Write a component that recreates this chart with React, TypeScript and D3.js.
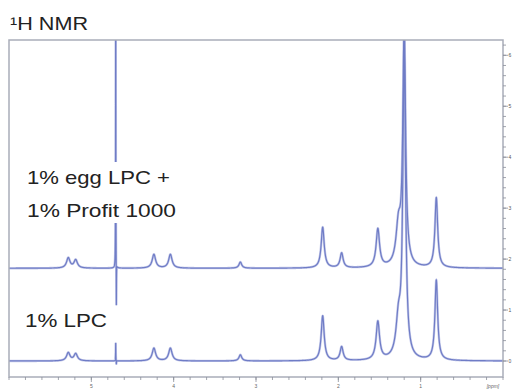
import React from "react";
import * as d3 from "d3";

// ---- data ----
const peakPpm = [5.28, 5.19, 4.704, 4.696, 4.24, 4.04, 3.19, 2.19, 1.96, 1.52, 1.27, 1.2, 0.81];
const peakWidth = [0.025, 0.025, 0.0015, 0.0015, 0.025, 0.025, 0.02, 0.022, 0.022, 0.025, 0.035, 0.02, 0.02];
const upperHeights = [0.2, 0.16, 6.5, -0.95, 0.27, 0.27, 0.12, 0.8, 0.29, 0.75, 0.75, 4.7, 1.37];
const lowerHeights = [0.16, 0.14, 0.36, -0.08, 0.25, 0.25, 0.12, 0.88, 0.27, 0.75, 0.7, 5.94, 1.57];
const upperBaseline = 1.82;
const lowerBaseline = 0.0;
const xMajorTicks = [5, 4, 3, 2, 1];
const yMajorTicks = [0, 1, 2, 3, 4, 5, 6];
const labelUpper1 = "1% egg LPC +";
const labelUpper2 = "1% Profit 1000";
const labelLower = "1% LPC";
const title = "\u00B9H NMR";

const W = 515;
const H = 390;
const L = 9, T = 40, R = 503, B = 377;

const x = d3.scaleLinear().domain([6, 0]).range([L, R]);
const y = d3.scaleLinear().domain([0, 6.3]).range([361, T]);

function spectrum(heights: number[], base: number): [number, number][] {
  const pts: [number, number][] = [];
  const grid = d3.range(6, -0.0005, -0.0005);
  for (const p of grid) {
    let s = base;
    for (let i = 0; i < peakPpm.length; i++) {
      const w = peakWidth[i];
      const d = p - peakPpm[i];
      s += (heights[i] * w * w) / (w * w + d * d);
    }
    pts.push([p, s]);
  }
  return pts;
}

const line = d3
  .line<[number, number]>()
  .x((d) => x(d[0]))
  .y((d) => y(d[1]));

export default function App() {
  const up = line(spectrum(upperHeights, upperBaseline)) || "";
  const lo = line(spectrum(lowerHeights, lowerBaseline)) || "";
  const xMinor = d3.range(0, 6.0001, 0.2);
  const yMinor = d3.range(0, 6.3, 0.2);
  const font = "'Liberation Sans', Arial, sans-serif";
  return (
    <svg width={W} height={H} style={{ position: "absolute", left: 0, top: 0, background: "#fff" }}>
      <defs>
        <clipPath id="plot">
          <rect x={L} y={T} width={R - L} height={B - T} />
        </clipPath>
      </defs>
      <text x={10} y={30} fontFamily={font} fontSize={18} fill="#222" textLength={78} lengthAdjust="spacingAndGlyphs">
        {title}
      </text>
      <g clipPath="url(#plot)">
        <path d={up} fill="none" stroke="#c6cbea" strokeWidth={2.4} />
        <path d={lo} fill="none" stroke="#c6cbea" strokeWidth={2.4} />
        <path d={up} fill="none" stroke="#6f7cc6" strokeWidth={1.2} />
        <path d={lo} fill="none" stroke="#6f7cc6" strokeWidth={1.2} />
      </g>
      <rect x={22} y={162} width={170} height={61} fill="#fff" />
      <text x={27} y={184} fontFamily={font} fontSize={19} fill="#222" textLength={143} lengthAdjust="spacingAndGlyphs">
        {labelUpper1}
      </text>
      <text x={27} y={217} fontFamily={font} fontSize={19} fill="#222" textLength={149} lengthAdjust="spacingAndGlyphs">
        {labelUpper2}
      </text>
      <text x={25} y={327} fontFamily={font} fontSize={19} fill="#222" textLength={82} lengthAdjust="spacingAndGlyphs">
        {labelLower}
      </text>
      <rect x={L} y={T} width={R - L} height={B - T} fill="none" stroke="#a9adb9" strokeWidth={1.5} />
      {/* bottom axis */}
      <g stroke="#8a8e99" strokeWidth={0.8}>
        {xMinor.map((v, i) => (
          <line key={i} x1={x(v)} x2={x(v)} y1={B} y2={B + 3} />
        ))}
        {xMajorTicks.map((v) => (
          <line key={"M" + v} x1={x(v)} x2={x(v)} y1={B} y2={B + 5} />
        ))}
      </g>
      {xMajorTicks.map((v) => (
        <text key={"t" + v} x={x(v)} y={388} fontFamily={font} fontSize={5} fill="#666" textAnchor="middle">
          {v}
        </text>
      ))}
      <text x={493} y={388} fontFamily={font} fontSize={5} fill="#666" textAnchor="middle" fontStyle="italic">
        [ppm]
      </text>
      {/* right axis */}
      <g stroke="#8a8e99" strokeWidth={0.8}>
        {yMinor.map((v, i) => (
          <line key={i} x1={R} x2={R + 3} y1={y(v)} y2={y(v)} />
        ))}
        {yMajorTicks.map((v) => (
          <line key={"M" + v} x1={R} x2={R + 5} y1={y(v)} y2={y(v)} />
        ))}
      </g>
      {yMajorTicks.map((v) => (
        <text key={"r" + v} x={510} y={y(v) + 2} fontFamily={font} fontSize={5} fill="#555" textAnchor="middle">
          {v}
        </text>
      ))}
    </svg>
  );
}
